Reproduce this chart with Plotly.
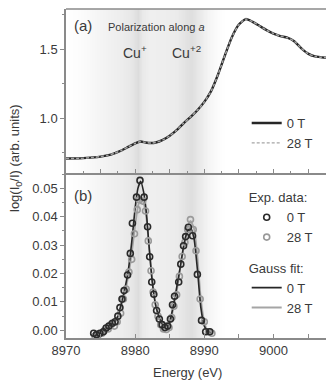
import numpy as np
import plotly.graph_objects as go

# ---------------- Panel (a): XANES, polarization along a ----------------
energy_a = [8970.0, 8972.0, 8974.0, 8975.0, 8976.0, 8977.0, 8978.0, 8979.0, 8980.0,
            8980.8, 8981.5, 8982.3, 8983.0, 8984.0, 8985.0, 8986.0, 8987.0, 8988.0,
            8989.0, 8990.0, 8991.0, 8992.0, 8993.0, 8994.0, 8995.0, 8996.0, 8997.0,
            8998.0, 8999.0, 9000.0, 9001.0, 9002.0, 9003.0, 9004.0, 9005.0, 9006.0, 9007.6]
absorb_0T = [0.710, 0.711, 0.718, 0.724, 0.733, 0.748, 0.768, 0.794, 0.820,
             0.833, 0.826, 0.822, 0.826, 0.845, 0.875, 0.915, 0.965, 1.010,
             1.060, 1.120, 1.200, 1.320, 1.460, 1.590, 1.680, 1.720, 1.700,
             1.670, 1.640, 1.615, 1.597, 1.585, 1.560, 1.510, 1.470, 1.450, 1.440]
absorb_28T = [0.710, 0.711, 0.718, 0.724, 0.733, 0.748, 0.768, 0.794, 0.820,
              0.833, 0.826, 0.822, 0.826, 0.845, 0.875, 0.915, 0.965, 1.010,
              1.060, 1.120, 1.200, 1.320, 1.460, 1.590, 1.680, 1.720, 1.700,
              1.670, 1.640, 1.615, 1.597, 1.585, 1.560, 1.510, 1.470, 1.450, 1.440]

# ---------------- Panel (b): pre-edge difference, experimental points ----------------
energy_exp_0T = [8974.0, 8974.4, 8974.9, 8975.4, 8975.8, 8976.2, 8976.7, 8977.1, 8977.5,
                 8977.8, 8978.1, 8978.4, 8978.9, 8979.3, 8979.6, 8980.2, 8980.7, 8981.3,
                 8981.8, 8982.1, 8982.4, 8982.7, 8983.1, 8983.5, 8983.9, 8984.3, 8984.7,
                 8985.1, 8985.4, 8985.7, 8986.3, 8986.6, 8987.0, 8987.3, 8987.7, 8988.3,
                 8989.0, 8989.6, 8990.2, 8990.8]
exp_0T = [-0.0010, -0.0015, -0.0010, -0.0005, 0.0008, 0.0015, 0.0025, 0.0030, 0.0050,
          0.0080, 0.0110, 0.0140, 0.0195, 0.0271, 0.0377, 0.0469, 0.0528, 0.0469,
          0.0365, 0.0259, 0.0170, 0.0127, 0.0070, 0.0040, 0.0020, 0.0010, 0.0015,
          0.0040, 0.0090, 0.0120, 0.0170, 0.0233, 0.0298, 0.0330, 0.0363, 0.0333,
          0.0197, 0.0035, -0.0005, -0.0005]
energy_exp_28T = [8974.2, 8974.7, 8975.2, 8975.6, 8976.1, 8976.5, 8977.0, 8977.4, 8977.9,
                  8978.3, 8978.7, 8979.1, 8979.5, 8979.9, 8980.3, 8980.6, 8981.1, 8981.5,
                  8981.9, 8982.3, 8982.6, 8982.9, 8983.3, 8983.7, 8984.1, 8984.5, 8984.9,
                  8985.3, 8985.6, 8986.0, 8986.4, 8986.8, 8987.2, 8987.6, 8988.0, 8988.4,
                  8988.8, 8989.4, 8990.0, 8990.6, 8991.1]
exp_28T = [-0.0020, -0.0015, -0.0010, 0.0000, 0.0005, 0.0020, 0.0015, 0.0030, 0.0060,
           0.0110, 0.0145, 0.0205, 0.0250, 0.0340, 0.0425, 0.0460, 0.0455, 0.0420,
           0.0315, 0.0210, 0.0135, 0.0090, 0.0050, 0.0020, 0.0005, 0.0003, 0.0010,
           0.0045, 0.0085, 0.0125, 0.0190, 0.0260, 0.0310, 0.0355, 0.0390, 0.0355,
           0.0280, 0.0110, 0.0030, -0.0005, -0.0010]

# ---------------- Panel (b): Gauss fits ----------------
energy_fit = [8974.0, 8974.5, 8975.0, 8975.5, 8976.0, 8976.5, 8977.0, 8977.5, 8978.0,
              8978.5, 8979.0, 8979.5, 8980.0, 8980.4, 8980.8, 8981.2, 8981.6, 8982.0,
              8982.5, 8983.0, 8983.5, 8984.0, 8984.5, 8985.0, 8985.5, 8986.0, 8986.5,
              8987.0, 8987.5, 8988.0, 8988.5, 8989.0, 8989.5, 8990.0, 8990.5, 8991.0]
fit_0T = [-0.0010, -0.0010, -0.0005, 0.0003, 0.0012, 0.0020, 0.0030, 0.0050, 0.0095,
          0.0145, 0.0210, 0.0310, 0.0430, 0.0500, 0.0525, 0.0490, 0.0420, 0.0300,
          0.0165, 0.0085, 0.0045, 0.0020, 0.0012, 0.0030, 0.0085, 0.0150, 0.0220,
          0.0295, 0.0345, 0.0360, 0.0325, 0.0215, 0.0080, 0.0015, -0.0005, -0.0008]
fit_28T = [-0.0015, -0.0012, -0.0008, 0.0000, 0.0008, 0.0015, 0.0025, 0.0045, 0.0085,
           0.0130, 0.0190, 0.0270, 0.0370, 0.0435, 0.0465, 0.0450, 0.0400, 0.0300,
           0.0170, 0.0085, 0.0040, 0.0012, 0.0005, 0.0020, 0.0075, 0.0135, 0.0215,
           0.0290, 0.0355, 0.0385, 0.0360, 0.0260, 0.0110, 0.0030, -0.0005, -0.0010]

x_ticks = [8970, 8980, 8990, 9000]

FONT = "Liberation Sans, Arial, Helvetica, sans-serif"
TXT = "#3a3a3a"
AX = "#8a8a8a"
BLACK = "#262626"
GREY = "#a5a5a5"

X_RANGE = [8970, 9007.6]
YA_RANGE = [0.605, 1.793]
YB_RANGE = [-0.0027, 0.0554]

fig = go.Figure()

# Background shading (smooth vertical grey gradient) - decoration only
shade_E = [8968.0, 8970.0, 8972.0, 8975.0, 8978.0, 8979.5, 8980.4, 8981.0, 8982.0, 8984.0,
           8986.0, 8987.4, 8988.1, 8989.0, 8990.5, 8992.0, 8993.0, 9010.0]
shade_L = [255, 255, 252, 244, 237, 231, 220, 233, 239, 238, 235, 226, 222, 231, 244, 252, 255, 255]
bg_x = np.arange(8968.0, 9010.01, 0.2)
bg_row = np.interp(bg_x, shade_E, shade_L)
for xa, ya, yr in (("x2", "y2", YA_RANGE), ("x", "y", YB_RANGE)):
    fig.add_trace(go.Heatmap(x=bg_x, y=[yr[0] - 1, yr[1] + 1], z=[bg_row, bg_row],
                             zmin=0, zmax=255, zsmooth="best", showscale=False,
                             colorscale=[[0, "rgb(0,0,0)"], [1, "rgb(255,255,255)"]],
                             hoverinfo="skip", xaxis=xa, yaxis=ya, showlegend=False))

# Panel (a)
fig.add_trace(go.Scatter(x=energy_a, y=absorb_0T, mode="lines", name="0 T",
                         line=dict(color=BLACK, width=2.4, shape="spline", smoothing=0.6),
                         xaxis="x2", yaxis="y2", legend="legend"))
fig.add_trace(go.Scatter(x=energy_a, y=absorb_28T, mode="lines", name="28 T",
                         line=dict(color=GREY, width=1.4, dash="3px,2px", shape="spline", smoothing=0.6),
                         xaxis="x2", yaxis="y2", legend="legend"))

# Panel (b) fits
fig.add_trace(go.Scatter(x=energy_fit, y=fit_28T, mode="lines", name="28 T",
                         line=dict(color=GREY, width=1.8, shape="spline", smoothing=0.6),
                         xaxis="x", yaxis="y", legend="legend3"))
fig.add_trace(go.Scatter(x=energy_fit, y=fit_0T, mode="lines", name="0 T",
                         line=dict(color=BLACK, width=1.6, shape="spline", smoothing=0.6),
                         xaxis="x", yaxis="y", legend="legend3"))
# Panel (b) experimental data
fig.add_trace(go.Scatter(x=energy_exp_28T, y=exp_28T, mode="markers", name="28 T",
                         marker=dict(symbol="circle-open", size=6, color="#9a9a9a",
                                     line=dict(width=1.6, color="#9a9a9a")),
                         xaxis="x", yaxis="y", legend="legend2"))
fig.add_trace(go.Scatter(x=energy_exp_0T, y=exp_0T, mode="markers", name="0 T",
                         marker=dict(symbol="circle-open", size=6, color="#2a2a2a",
                                     line=dict(width=1.6, color="#2a2a2a")),
                         xaxis="x", yaxis="y", legend="legend2"))

shapes = [dict(type="line", xref="paper", yref="paper", x0=0, x1=1, y0=1, y1=1,
               line=dict(color=AX, width=1.5))]

split = 0.5015
common_x = dict(range=X_RANGE, showline=True, linecolor=AX, linewidth=1.5,
                showgrid=False, zeroline=False)
fig.update_layout(
    width=326, height=383,
    margin=dict(l=66, r=0, t=9, b=45),
    paper_bgcolor="white", plot_bgcolor="white",
    font=dict(family=FONT, size=13, color=TXT),
    shapes=shapes,
    xaxis=dict(**common_x, domain=[0, 1], anchor="y",
               tickmode="array", tickvals=x_ticks, ticks="inside", ticklen=4,
               tickcolor=AX, tickwidth=1.2,
               minor=dict(dtick=5, tick0=8970, ticks="inside", ticklen=4, tickcolor=AX),
               tickfont=dict(size=13, color=TXT)),
    xaxis2=dict(**common_x, domain=[0, 1], anchor="y2", matches="x",
                showticklabels=False, dtick=5, tick0=8970, ticks="inside", ticklen=4,
                tickcolor=AX, tickwidth=1.2,
                minor=dict(dtick=2.5, ticks="inside", ticklen=2.5, tickcolor=AX)),
    yaxis=dict(domain=[0, split], anchor="x", range=YB_RANGE,
               dtick=0.01, tick0=0, tickformat=".2f", ticks="outside", ticklen=4,
               tickcolor=AX, tickwidth=1.2,
               minor=dict(dtick=0.005, ticks="outside", ticklen=2.5, tickcolor=AX),
               showline=True, linecolor=AX, linewidth=1.5, showgrid=False, zeroline=False,
               tickfont=dict(size=13, color=TXT)),
    yaxis2=dict(domain=[split, 1], anchor="x2", range=YA_RANGE,
                dtick=0.5, tick0=0, tickformat=".1f", ticks="outside", ticklen=4,
                tickcolor=AX, tickwidth=1.2,
                minor=dict(dtick=0.25, ticks="outside", ticklen=2.5, tickcolor=AX),
                showline=True, linecolor=AX, linewidth=1.5, showgrid=False, zeroline=False,
                tickfont=dict(size=13, color=TXT)),
    legend=dict(x=0.695, y=0.699, xanchor="left", yanchor="top", bgcolor="rgba(0,0,0,0)",
                font=dict(size=13, color=TXT), itemwidth=30, tracegroupgap=0),
    legend2=dict(x=0.695, y=0.464, xanchor="left", yanchor="top", bgcolor="rgba(0,0,0,0)",
                 title=dict(text="Exp. data:", font=dict(size=13, color=TXT)),
                 font=dict(size=13, color=TXT), itemwidth=30, traceorder="reversed"),
    legend3=dict(x=0.695, y=0.250, xanchor="left", yanchor="top", bgcolor="rgba(0,0,0,0)",
                 title=dict(text="Gauss fit:", font=dict(size=13, color=TXT)),
                 font=dict(size=13, color=TXT), itemwidth=30, traceorder="reversed"),
)

def px_x(px):
    return (px - 66) / 260.0

def px_y(py):
    return (338 - py) / 329.0

annotations = [
    dict(text="(a)", x=px_x(72), y=px_y(25), xanchor="left", yanchor="middle",
         font=dict(size=15, color=TXT)),
    dict(text="Polarization along <i>a</i>", x=px_x(106), y=px_y(27), xanchor="left",
         yanchor="middle", font=dict(size=11, color=TXT)),
    dict(text="Cu<sup>+</sup>", x=px_x(121), y=px_y(52), xanchor="left", yanchor="middle",
         font=dict(size=14, color=TXT)),
    dict(text="Cu<sup>+2</sup>", x=px_x(170), y=px_y(52), xanchor="left", yanchor="middle",
         font=dict(size=14, color=TXT)),
    dict(text="(b)", x=px_x(72), y=px_y(195), xanchor="left", yanchor="middle",
         font=dict(size=15, color=TXT)),
    dict(text="Energy (eV)", x=px_x(187), y=px_y(372), xanchor="center", yanchor="middle",
         font=dict(size=13, color=TXT)),
    dict(text="log(I<sub>0</sub>/I) (arb. units)", x=px_x(15), y=px_y(158), xanchor="center",
         yanchor="middle", textangle=-90, font=dict(size=13, color=TXT)),
]
for a in annotations:
    a.update(xref="paper", yref="paper", showarrow=False)
fig.update_layout(annotations=annotations)

fig.write_html("out.html", config={"displayModeBar": False},
               post_script="document.body.style.margin='0';document.body.style.overflow='hidden';")
